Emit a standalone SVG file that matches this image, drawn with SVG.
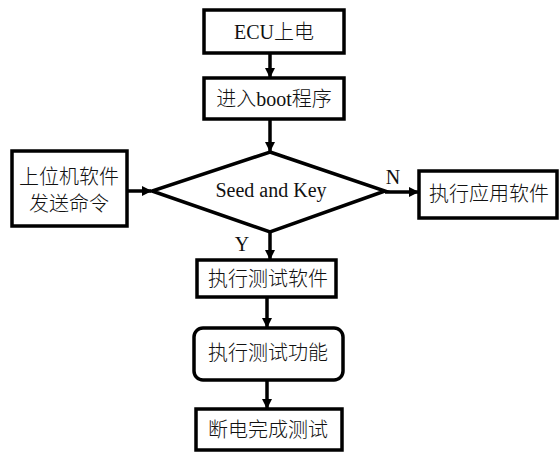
<svg xmlns="http://www.w3.org/2000/svg" width="560" height="453" viewBox="0 0 560 453">
<defs>
<marker id="ah" markerWidth="10" markerHeight="10" refX="9" refY="5" orient="auto" markerUnits="userSpaceOnUse">
<path d="M0,0 L10,5 L0,10 Z" fill="#000"/>
</marker>
<style>
.box{fill:#fff;stroke:#000;stroke-width:3.5}
.cn{font-family:"Liberation Serif","Noto Sans CJK SC",serif;font-size:20px;font-weight:300;fill:#111;text-anchor:middle}
.en{font-family:"Liberation Serif",serif;font-size:20px;fill:#111;text-anchor:middle}
.lnk{stroke:#000;stroke-width:3.5;fill:none;marker-end:url(#ah)}
</style>
</defs>
<rect width="560" height="453" fill="#fff"/>
<g id="connectors">
<line class="lnk" x1="270" y1="53" x2="270" y2="77"/>
<line class="lnk" x1="270" y1="119" x2="270" y2="151"/>
<line class="lnk" x1="127" y1="191" x2="151" y2="191"/>
<line class="lnk" x1="385" y1="192" x2="418" y2="192"/>
<line class="lnk" x1="270" y1="232" x2="270" y2="259"/>
<line class="lnk" x1="267" y1="297" x2="267" y2="327"/>
<line class="lnk" x1="267" y1="380" x2="267" y2="408"/>
<text class="en" x="393" y="184">N</text>
<text class="en" x="242" y="251">Y</text>
</g>
<g id="ecu">
<rect class="box" x="204" y="10" width="140" height="43"/>
<text class="cn" x="274" y="39">ECU上电</text>
</g>
<g id="boot">
<rect class="box" x="204" y="78" width="140" height="41"/>
<text class="cn" x="274" y="106">进入boot程序</text>
</g>
<g id="host">
<rect class="box" x="12" y="151" width="115" height="75"/>
<text class="cn" x="69" y="184">上位机软件</text>
<text class="cn" x="69" y="211">发送命令</text>
</g>
<g id="decision">
<polygon points="270,152 385,191 270,232 152,191" fill="#fff" stroke="#000" stroke-width="3.5" stroke-linejoin="miter"/>
<text class="en" x="271" y="197">Seed and Key</text>
</g>
<g id="app">
<rect class="box" x="419" y="171" width="138" height="47"/>
<text class="cn" x="489" y="201">执行应用软件</text>
</g>
<g id="testsw">
<rect class="box" x="197" y="260" width="139" height="37"/>
<text class="cn" x="268" y="286">执行测试软件</text>
</g>
<g id="testfn">
<rect class="box" x="194" y="328" width="149" height="52" rx="9"/>
<text class="cn" x="268" y="360">执行测试功能</text>
</g>
<g id="poweroff">
<rect class="box" x="196" y="409" width="146" height="41"/>
<text class="cn" x="268" y="437">断电完成测试</text>
</g>
</svg>
